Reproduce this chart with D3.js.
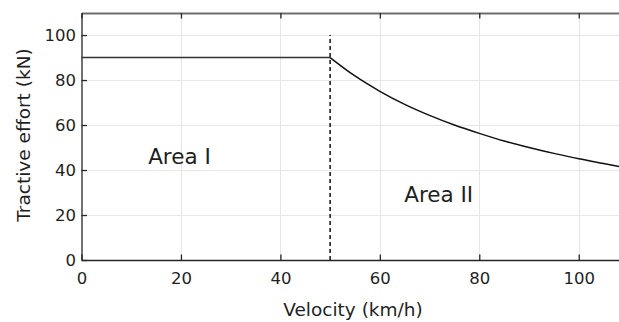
<!DOCTYPE html>
<html>
<head>
<meta charset="utf-8">
<script src="https://cdn.jsdelivr.net/npm/d3@7"></script>
<style>
  html, body { margin: 0; padding: 0; background: #fff; }
  svg { display: block; }
  text { font-family: "DejaVu Sans", "Liberation Sans", Arial, sans-serif; fill: #1f1f1f; }
</style>
</head>
<body>
<svg id="chart" width="619" height="322"></svg>
<script>
// Constant-effort region up to the base speed
const flatVelocity = [0, 50];
const flatEffort = [90, 90];

// Constant-power region above the base speed
const curveVelocity = [50, 55, 60, 65, 70, 75, 80, 85, 90, 95, 100, 105, 108.1];
const curveEffort = [90, 81.8, 75, 69.2, 64.3, 60, 56.3, 52.9, 50, 47.4, 45, 42.9, 41.6];

// Boundary between the two operating areas
const boundaryVelocity = [50, 50];
const boundaryEffort = [0, 100];

const xTicks = [0, 20, 40, 60, 80, 100];
const yTicks = [0, 20, 40, 60, 80, 100];

const areaLabels = ["Area I", "Area II"];
const areaLabelVelocity = [13.4, 64.9];
const areaLabelEffort = [42.6, 25.9];

const xTitle = "Velocity (km/h)";
const yTitle = "Tractive effort (kN)";

const svg = d3.select("#chart");
const plotLeft = 81.5, plotRight = 619, plotTop = 13, plotBottom = 260;

const x = d3.scaleLinear().domain([0, 108.1]).range([plotLeft, plotRight]);
const y = d3.scaleLinear().domain([0, 109.8]).range([plotBottom, plotTop]);

// grid
const grid = svg.append("g");
grid.selectAll("line.v").data(xTicks.slice(1)).join("line")
  .attr("x1", d => Math.round(x(d)) + 0.5).attr("x2", d => Math.round(x(d)) + 0.5)
  .attr("y1", plotTop).attr("y2", plotBottom)
  .attr("stroke", "#e6e6e6").attr("stroke-width", 1);
grid.selectAll("line.h").data(yTicks.slice(1)).join("line")
  .attr("x1", plotLeft).attr("x2", plotRight)
  .attr("y1", d => Math.round(y(d)) + 0.5).attr("y2", d => Math.round(y(d)) + 0.5)
  .attr("stroke", "#e6e6e6").attr("stroke-width", 1);

// axes with inward ticks
const xAxis = svg.append("g").attr("transform", `translate(0,${plotBottom})`)
  .call(d3.axisBottom(x).tickValues(xTicks).tickSizeInner(-5.5).tickSizeOuter(0).tickPadding(12.5));
const xAxisTop = svg.append("g").attr("transform", `translate(0,${plotTop})`)
  .call(d3.axisTop(x).tickValues(xTicks).tickSizeInner(-5.5).tickSizeOuter(0).tickFormat(""));
const yAxis = svg.append("g").attr("transform", `translate(${plotLeft},0)`)
  .call(d3.axisLeft(y).tickValues(yTicks).tickSizeInner(-5.5).tickSizeOuter(0).tickPadding(5.5));

[xAxis, yAxis].forEach(g => {
  g.select(".domain").attr("stroke", "#262626").attr("stroke-width", 1.3);
  g.selectAll(".tick line").attr("stroke", "#262626").attr("stroke-width", 1.3);
  g.selectAll(".tick text").attr("font-size", 16.5).attr("fill", "#1f1f1f")
    .attr("font-family", "'DejaVu Sans', sans-serif");
});
xAxisTop.select(".domain").attr("stroke", "#6e6e6e").attr("stroke-width", 2);
xAxisTop.selectAll(".tick line").attr("stroke", "#262626").attr("stroke-width", 1.3);
xAxis.selectAll(".tick text").attr("dy", "0.71em");

// tractive effort characteristic
const line = d3.line().x(d => x(d[0])).y(d => y(d[1]));
svg.append("path")
  .datum(flatVelocity.map((v, i) => [v, flatEffort[i]]))
  .attr("d", line)
  .attr("fill", "none").attr("stroke", "#333").attr("stroke-width", 1.6);
svg.append("path")
  .datum(curveVelocity.map((v, i) => [v, curveEffort[i]]))
  .attr("d", d3.line().x(d => x(d[0])).y(d => y(d[1])).curve(d3.curveMonotoneX))
  .attr("fill", "none").attr("stroke", "#111").attr("stroke-width", 1.5);

// base-speed boundary
svg.append("path")
  .datum(boundaryVelocity.map((v, i) => [v, boundaryEffort[i]]))
  .attr("d", line)
  .attr("fill", "none").attr("stroke", "#111").attr("stroke-width", 1.5)
  .attr("stroke-dasharray", "4,3");

// area labels
svg.selectAll("text.area").data(areaLabels).join("text")
  .attr("class", "area")
  .attr("x", (d, i) => x(areaLabelVelocity[i]))
  .attr("y", (d, i) => y(areaLabelEffort[i]))
  .attr("font-size", 21.5)
  .attr("fill", "#1a1a1a")
  .text(d => d);

// axis titles
svg.append("text")
  .attr("x", 353).attr("y", 315.5)
  .attr("text-anchor", "middle").attr("font-size", 18.5)
  .text(xTitle);
svg.append("text")
  .attr("transform", "translate(30,135) rotate(-90)")
  .attr("text-anchor", "middle").attr("font-size", 18.5)
  .text(yTitle);
</script>
</body>
</html>
